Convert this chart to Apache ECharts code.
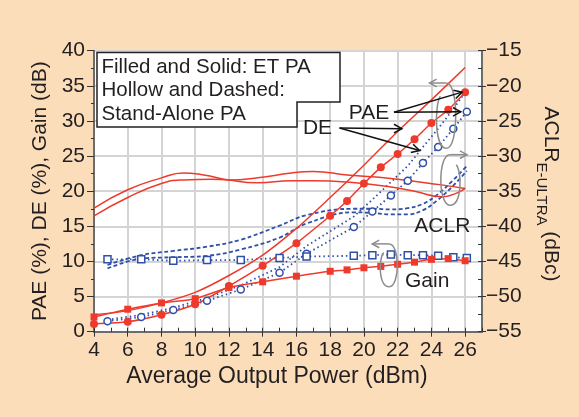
<!DOCTYPE html>
<html>
<head>
<meta charset="utf-8">
<script src="https://cdn.jsdelivr.net/npm/echarts@6/dist/echarts.min.js"></script>
<style>
  html, body { margin: 0; padding: 0; background: #FCDDBA; }
  #chart { width: 579px; height: 417px; }
</style>
</head>
<body>
<div id="chart"></div>
<script>
const FONT = '"Liberation Sans", Arial, Helvetica, sans-serif';
const INK = '#231F20';
const RED = '#EE3A2C';
const BLUE = '#2F4FA8';

// ET PA (envelope tracking), output power in dBm
const etPower = [4, 6, 8, 10, 12, 14, 16, 18, 19, 20, 21, 22, 23, 24, 25, 26];
const etPae   = [1.1, 1.4, 2.4, 3.9, 6.5, 9.4, 12.6, 16.5, 18.6, 21.1, 23.4, 25.3, 27.4, 29.7, 31.6, 34.1];
const etGain  = [2.1, 3.2, 4.1, 4.7, 6.3, 7.1, 7.9, 8.6, 8.8, 9.1, 9.3, 9.6, 9.9, 10.3, 10.4, 10.1];
const etDePower = [4, 6, 8, 10, 12, 14, 16, 18, 20, 22, 24, 26];
const etDe      = [2.4, 3.0, 4.1, 5.6, 8.0, 10.9, 14.7, 19.1, 23.7, 28.5, 33.0, 37.6];
// ET PA ACLR (dBc), two adjacent channels
const etAclrPowerA = [4, 6, 8, 9.3, 10.5, 12, 13.7, 15.7, 17, 19, 21.6, 23, 24.6, 26];
const etAclrA      = [-37.4, -34.8, -33.1, -32.4, -32.7, -33.4, -33.8, -33.5, -33.5, -33.7, -34.4, -35.0, -35.8, -34.6];
const etAclrPowerB = [4, 6, 8, 9.3, 11, 12, 13.7, 15.7, 17, 19, 21.6, 24.6, 26];
const etAclrB      = [-38.5, -35.9, -33.9, -33.4, -33.3, -33.4, -33.1, -32.4, -32.2, -32.7, -33.2, -34.1, -34.6];

// Stand-alone PA
const saPower = [4.8, 6.8, 8.7, 10.7, 12.7, 15.0, 16.6, 19.4, 20.5, 21.6, 22.6, 23.5, 24.4, 25.3, 26.1];
const saPae   = [1.5, 2.1, 3.1, 4.4, 6.0, 8.4, 11.1, 14.9, 17.1, 19.4, 21.5, 24.0, 26.3, 28.9, 31.3];
const saDe    = [1.7, 2.4, 3.4, 4.8, 6.6, 9.2, 12.2, 16.4, 18.8, 21.3, 23.6, 26.3, 28.9, 31.7, 34.4];
const saGain  = [10.3, 10.3, 10.1, 10.2, 10.2, 10.5, 10.7, 10.8, 10.9, 11.0, 10.9, 10.9, 10.8, 10.6, 10.5];
const saAclrU = [-45.5, -44.1, -43.5, -42.9, -41.9, -39.9, -38.4, -37.5, -37.5, -37.6, -37.4, -36.8, -35.4, -33.4, -31.4];
const saAclrL = [-46.0, -44.6, -44.4, -44.2, -43.3, -41.6, -39.6, -38.0, -38.1, -38.3, -38.3, -37.7, -36.2, -34.2, -32.1];

// axis ranges and ticks
const xMin = 4, xMax = 27, xStep = 2;
const yMin = 0, yMax = 40, yStep = 5;
const y2Min = -55, y2Max = -15;

const pairs = (xs, ys) => xs.map((x, i) => [x, ys[i]]);
const minus = v => (v < 0 ? '\u2212' + Math.abs(v) : String(v));

const chart = echarts.init(document.getElementById('chart'), null, { renderer: 'canvas' });

const lineSeries = (name, data, opts) => Object.assign({
  name, type: 'line', data, animation: false, z: 3,
  showSymbol: false, symbol: 'none',
  lineStyle: { width: 1.5 }
}, opts);

chart.setOption({
  backgroundColor: '#FCDDBA',
  animation: false,
  textStyle: { fontFamily: FONT },
  grid: {
    left: 94, right: 97, top: 50.7, bottom: 85.3,
    show: true, backgroundColor: '#FFFFFF', borderColor: '#4A4A4A', borderWidth: 1.5
  },
  xAxis: [{
    type: 'value', min: xMin, max: xMax, interval: xStep, position: 'bottom',
    axisLine: { show: true, onZero: false, lineStyle: { color: '#4A4A4A', width: 1.5 } },
    axisTick: { show: true, length: 5, lineStyle: { color: '#333', width: 1 } },
    axisLabel: {
      fontSize: 21, color: INK, margin: 8, fontFamily: FONT, showMaxLabel: false,
      formatter: v => (v % 2 === 0 ? String(v) : '')
    },
    splitLine: { show: true, lineStyle: { color: '#D4D4D4', width: 2 } },
    name: 'Average Output Power (dBm)', nameLocation: 'middle', nameGap: 33,
    nameTextStyle: { fontSize: 23, color: INK, fontFamily: FONT, padding: [0, 22, 0, 0] }
  }, {
    type: 'value', min: xMin, max: xMax, interval: 1, position: 'bottom',
    axisLine: { show: false },
    axisTick: { show: true, inside: true, length: 4, lineStyle: { color: '#333', width: 1 } },
    axisLabel: { show: false }, splitLine: { show: false }
  }],
  yAxis: [{
    type: 'value', min: yMin, max: yMax, interval: yStep, position: 'left',
    axisLine: { show: true, onZero: false, lineStyle: { color: '#4A4A4A', width: 1.5 } },
    axisTick: { show: true, length: 7, lineStyle: { color: '#333', width: 1 } },
    minorTick: { show: true, splitNumber: 2, length: 3, lineStyle: { color: '#333', width: 1 } },
    axisLabel: { fontSize: 21, color: INK, margin: 9, fontFamily: FONT },
    splitLine: { show: true, lineStyle: { color: '#D4D4D4', width: 2 } },
    name: 'PAE (%), DE (%), Gain (dB)', nameLocation: 'middle', nameGap: 41,
    nameTextStyle: { fontSize: 21, color: INK, fontFamily: FONT }
  }, {
    type: 'value', min: y2Min, max: y2Max, interval: yStep, position: 'right',
    axisLine: { show: true, onZero: false, lineStyle: { color: '#4A4A4A', width: 1.5 } },
    axisTick: { show: true, length: 4, lineStyle: { color: '#333', width: 1 } },
    axisLabel: { fontSize: 21, color: INK, margin: 4, fontFamily: FONT, formatter: minus },
    splitLine: { show: false }
  }, {
    type: 'value', min: y2Min, max: y2Max, interval: 2.5, position: 'right',
    axisLine: { show: false },
    axisTick: { show: true, inside: true, length: 4, lineStyle: { color: '#333', width: 1 } },
    axisLabel: { show: false }, splitLine: { show: false }
  }],
  series: [
    // stand-alone PA: hollow markers, dotted / dashed lines
    lineSeries('SA DE', pairs(saPower, saDe), {
      lineStyle: { color: BLUE, width: 1.8, type: [1.5, 3] }
    }),
    lineSeries('SA PAE', pairs(saPower, saPae), {
      showSymbol: true, symbol: 'circle', symbolSize: 7,
      itemStyle: { color: '#FFFFFF', borderColor: BLUE, borderWidth: 1.5 },
      lineStyle: { color: BLUE, width: 1.8, type: [1.5, 3] }
    }),
    lineSeries('SA Gain', pairs(saPower, saGain), {
      showSymbol: true, symbol: 'rect', symbolSize: 7,
      itemStyle: { color: '#FFFFFF', borderColor: BLUE, borderWidth: 1.5 },
      lineStyle: { color: BLUE, width: 1.8, type: [1.5, 3] }
    }),
    lineSeries('SA ACLR U', pairs(saPower, saAclrU), {
      yAxisIndex: 1, smooth: 0.4,
      lineStyle: { color: BLUE, width: 1.8, type: [4, 2.5] }
    }),
    lineSeries('SA ACLR L', pairs(saPower, saAclrL), {
      yAxisIndex: 1, smooth: 0.4,
      lineStyle: { color: BLUE, width: 1.8, type: [4, 2.5] }
    }),
    // ET PA: filled markers, solid lines
    lineSeries('ET ACLR A', pairs(etAclrPowerA, etAclrA), {
      yAxisIndex: 1, smooth: 0.5, lineStyle: { color: RED, width: 1.5 }
    }),
    lineSeries('ET ACLR B', pairs(etAclrPowerB, etAclrB), {
      yAxisIndex: 1, smooth: 0.5, lineStyle: { color: RED, width: 1.5 }
    }),
    lineSeries('ET DE', pairs(etDePower, etDe), {
      smooth: 0.3, lineStyle: { color: RED, width: 1.5 }
    }),
    lineSeries('ET PAE', pairs(etPower, etPae), {
      showSymbol: true, symbol: 'circle', symbolSize: 8, smooth: 0.2,
      itemStyle: { color: RED }, lineStyle: { color: RED, width: 1.5 }
    }),
    lineSeries('ET Gain', pairs(etPower, etGain), {
      showSymbol: true, symbol: 'rect', symbolSize: 7, smooth: 0.2,
      itemStyle: { color: RED }, lineStyle: { color: RED, width: 1.5 }
    })
  ]
});

// ---- annotations: legend box, labels, pointer arrows, axis-direction loops ----
const px = (x, y) => chart.convertToPixel({ xAxisIndex: 0, yAxisIndex: 0 }, [x, y]);

function arrow(p0, p1, color, width, head) {
  const ang = Math.atan2(p1[1] - p0[1], p1[0] - p0[0]);
  const s = 0.5;
  const a1 = [p1[0] - head * Math.cos(ang - s), p1[1] - head * Math.sin(ang - s)];
  const a2 = [p1[0] - head * Math.cos(ang + s), p1[1] - head * Math.sin(ang + s)];
  return [
    { type: 'line', z: 20, shape: { x1: p0[0], y1: p0[1], x2: p1[0], y2: p1[1] }, style: { stroke: color, lineWidth: width } },
    { type: 'polyline', z: 20, shape: { points: [a1, p1, a2] }, style: { stroke: color, lineWidth: width, fill: null } }
  ];
}

// open loop with a horizontal arrow at its top, pointing toward the axis it refers to
function loop(c, top, bottom, rx, dir) {
  const G = '#8C8C8C';
  const k = rx * 1.35;
  const tip = [c + dir * 17, top];
  return [
    { type: 'bezierCurve', z: 19, shape: { x1: c, y1: top, cpx1: c - dir * k, cpy1: top, cpx2: c - dir * k, cpy2: bottom, x2: c, y2: bottom },
      style: { stroke: G, lineWidth: 1.5, fill: null } },
    { type: 'bezierCurve', z: 19, shape: { x1: c, y1: bottom, cpx1: c + dir * k, cpy1: bottom, cpx2: c + dir * k, cpy2: top + (bottom - top) * 0.35, x2: c + dir * rx * 0.7, y2: top + (bottom - top) * 0.2 },
      style: { stroke: G, lineWidth: 1.5, fill: null } }
  ].concat(arrow([c, top], tip, G, 1.5, 8));
}

const txt = (p, text, size, align) => ({
  type: 'text', z: 21, x: p[0], y: p[1],
  style: { text, fontSize: size, fontFamily: FONT, fill: INK, align: align || 'center', verticalAlign: 'middle' }
});

const g = [];
// legend box (stepped outline)
g.push({
  type: 'polygon', z: 18,
  shape: { points: [[97, 52.5], [340, 52.5], [340, 102], [297, 102], [297, 127], [97, 127]] },
  style: { fill: '#FFFFFF', stroke: '#222', lineWidth: 1.5 }
});
g.push(txt([101.5, 67], 'Filled and Solid: ET PA', 20.5, 'left'));
g.push(txt([101.5, 90.5], 'Hollow and Dashed:', 20.5, 'left'));
g.push(txt([101.5, 114.5], 'Stand-Alone PA', 20.5, 'left'));

// curve labels
const pPAE = px(20.3, 31.1), pDE = px(17.25, 29.0);
g.push(txt(pPAE, 'PAE', 21));
g.push(txt(pDE, 'DE', 21));
g.push(txt(px(24.65, 15.05), 'ACLR', 21));
g.push(txt(px(23.75, 7.2), 'Gain', 21));

// pointers from the PAE / DE labels to their curves
const paeFrom = [pPAE[0] + 25, pPAE[1] - 1];
const etPaeEnd = px(etPower[etPower.length - 1], etPae[etPae.length - 1]);
const saPaeEnd = px(saPower[saPower.length - 1], saPae[saPae.length - 1]);
g.push(...arrow(paeFrom, [etPaeEnd[0] - 3, etPaeEnd[1]], '#111', 1.5, 9));
g.push(...arrow(paeFrom, [saPaeEnd[0] - 6, saPaeEnd[1]], '#111', 1.5, 9));
const deFrom = [pDE[0] + 22, pDE[1]];
g.push(...arrow(deFrom, px(22.25, 28.9), '#111', 1.5, 9));
g.push(...arrow(deFrom, px(23.3, 25.8), '#111', 1.5, 9));

// axis-direction loops
const L1 = px(24.9, 35.4), L1b = px(24.9, 26.1);
g.push(...loop(L1[0], L1[1], L1b[1], 9, -1));
const L2 = px(25.1, 25.2), L2b = px(25.1, 18.0);
g.push(...loop(L2[0], L2[1], L2b[1], 9, 1));
const L3 = px(21.5, 12.5), L3b = px(21.5, 6.4);
g.push(...loop(L3[0], L3[1], L3b[1], 8, -1));

// right axis title with subscript, reading top to bottom
g.push({
  type: 'text', z: 21, x: 551, y: 194, rotation: -Math.PI / 2,
  style: {
    text: '{a|ACLR}{s|E-ULTRA}{a| (dBc)}',
    align: 'center', verticalAlign: 'middle', fontFamily: FONT, fill: INK,
    rich: {
      a: { fontSize: 21, lineHeight: 34, fontFamily: FONT, fill: INK, verticalAlign: 'middle' },
      s: { fontSize: 15, lineHeight: 12, fontFamily: FONT, fill: INK, verticalAlign: 'bottom' }
    }
  }
});

chart.setOption({ graphic: { elements: g } });
</script>
</body>
</html>
